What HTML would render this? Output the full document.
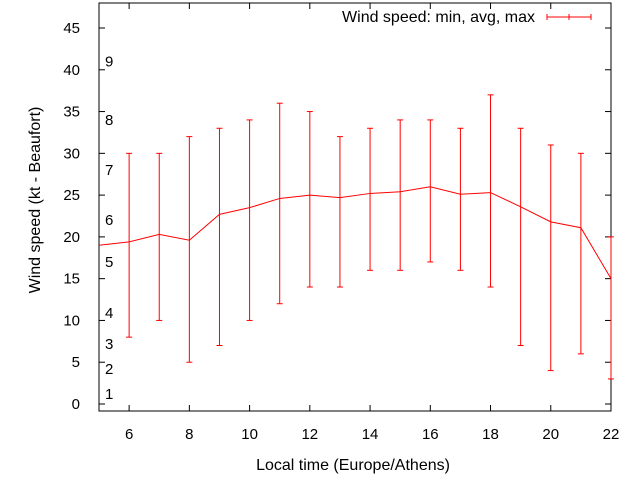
<!DOCTYPE html>
<html><head><meta charset="utf-8"><style>
html,body{margin:0;padding:0;background:#fff;}
svg{display:block;font-family:"Liberation Sans",sans-serif;}
</style></head><body>
<svg id="chart" width="640" height="480" viewBox="0 0 640 480" xmlns="http://www.w3.org/2000/svg">
<rect width="640" height="480" fill="#fff"/>
<g id="g"></g>
</svg>
<script>
const hours = [5,6,7,8,9,10,11,12,13,14,15,16,17,18,19,20,21,22];
const avgSpeed = [19,19.4,20.3,19.6,22.7,23.5,24.6,25,24.7,25.2,25.4,26,25.1,25.3,23.6,21.8,21.1,15];
const minSpeed = [null,8,10,5,7,10,12,14,14,16,16,17,16,14,7,4,6,3];
const maxSpeed = [null,30,30,32,33,34,36,35,32,33,34,34,33,37,33,31,30,20];
const xTicks = [6,8,10,12,14,16,18,20,22];
const yTicks = [0,5,10,15,20,25,30,35,40,45];
const beaufortLabels = ["1","2","3","4","5","6","7","8","9"];
const beaufortPos = [1.2,4.2,7.2,10.9,17,22,28,34,41];

const L=99,R=611,T=3,B=411;
const X=v=>L+(v-5)*(R-L)/17;
const Y=v=>404-v*(404-28)/45;
const NS="http://www.w3.org/2000/svg";
const g=document.getElementById('g');
function el(tag,attrs,name,text){const e=document.createElementNS(NS,tag);for(const k in attrs)e.setAttribute(k,attrs[k]);


if(text!==undefined)e.textContent=text;g.appendChild(e);return e;}

el('rect',{x:L,y:T,width:R-L,height:B-T,fill:'none',stroke:'#000','stroke-width':1},'plot-frame');
yTicks.forEach(v=>{const y=Y(v);
el('line',{x1:L,x2:L+6,y1:y,y2:y,stroke:'#000'},'y-tick');
el('line',{x1:R-6,x2:R,y1:y,y2:y,stroke:'#000'},'y-tick-mirror');
el('text',{x:80,y:y+5,'text-anchor':'end','font-size':15},'y-tick-label',String(v));});
xTicks.forEach(v=>{const x=X(v);
el('line',{x1:x,x2:x,y1:B,y2:B-6,stroke:'#000'},'x-tick');
el('line',{x1:x,x2:x,y1:T,y2:T+6,stroke:'#000'},'x-tick-mirror');
el('text',{x:x,y:439,'text-anchor':'middle','font-size':15},'x-tick-label',String(v));});
beaufortLabels.forEach((t,i)=>{el('text',{x:105,y:Y(beaufortPos[i])+5,'font-size':15},'beaufort-label',t);});
el('text',{x:353,y:470,'text-anchor':'middle','font-size':16},'x-axis-title','Local time (Europe/Athens)');
el('text',{x:0,y:0,'text-anchor':'middle','font-size':16,transform:'translate(40,200) rotate(-90)'},'y-axis-title','Wind speed (kt - Beaufort)');

hours.forEach((h,i)=>{if(minSpeed[i]==null)return;const x=X(h);
el('line',{x1:x,x2:x,y1:Y(minSpeed[i]),y2:Y(maxSpeed[i]),stroke:'#f00'},'error-bar');
el('line',{x1:x-3,x2:x+3,y1:Y(minSpeed[i]),y2:Y(minSpeed[i]),stroke:'#f00'},'error-cap-min');
el('line',{x1:x-3,x2:x+3,y1:Y(maxSpeed[i]),y2:Y(maxSpeed[i]),stroke:'#f00'},'error-cap-max');});
el('polyline',{points:hours.map((h,i)=>X(h)+','+Y(avgSpeed[i])).join(' '),fill:'none',stroke:'#f00'},'avg-line');

el('text',{x:535,y:22,'text-anchor':'end','font-size':16},'legend-label','Wind speed: min, avg, max');
el('line',{x1:547,x2:591,y1:17,y2:17,stroke:'#f00'},'legend-sample');
[547,569,591].forEach(x=>el('line',{x1:x,x2:x,y1:14,y2:20,stroke:'#f00'},'legend-cap'));
</script>
</body></html>
